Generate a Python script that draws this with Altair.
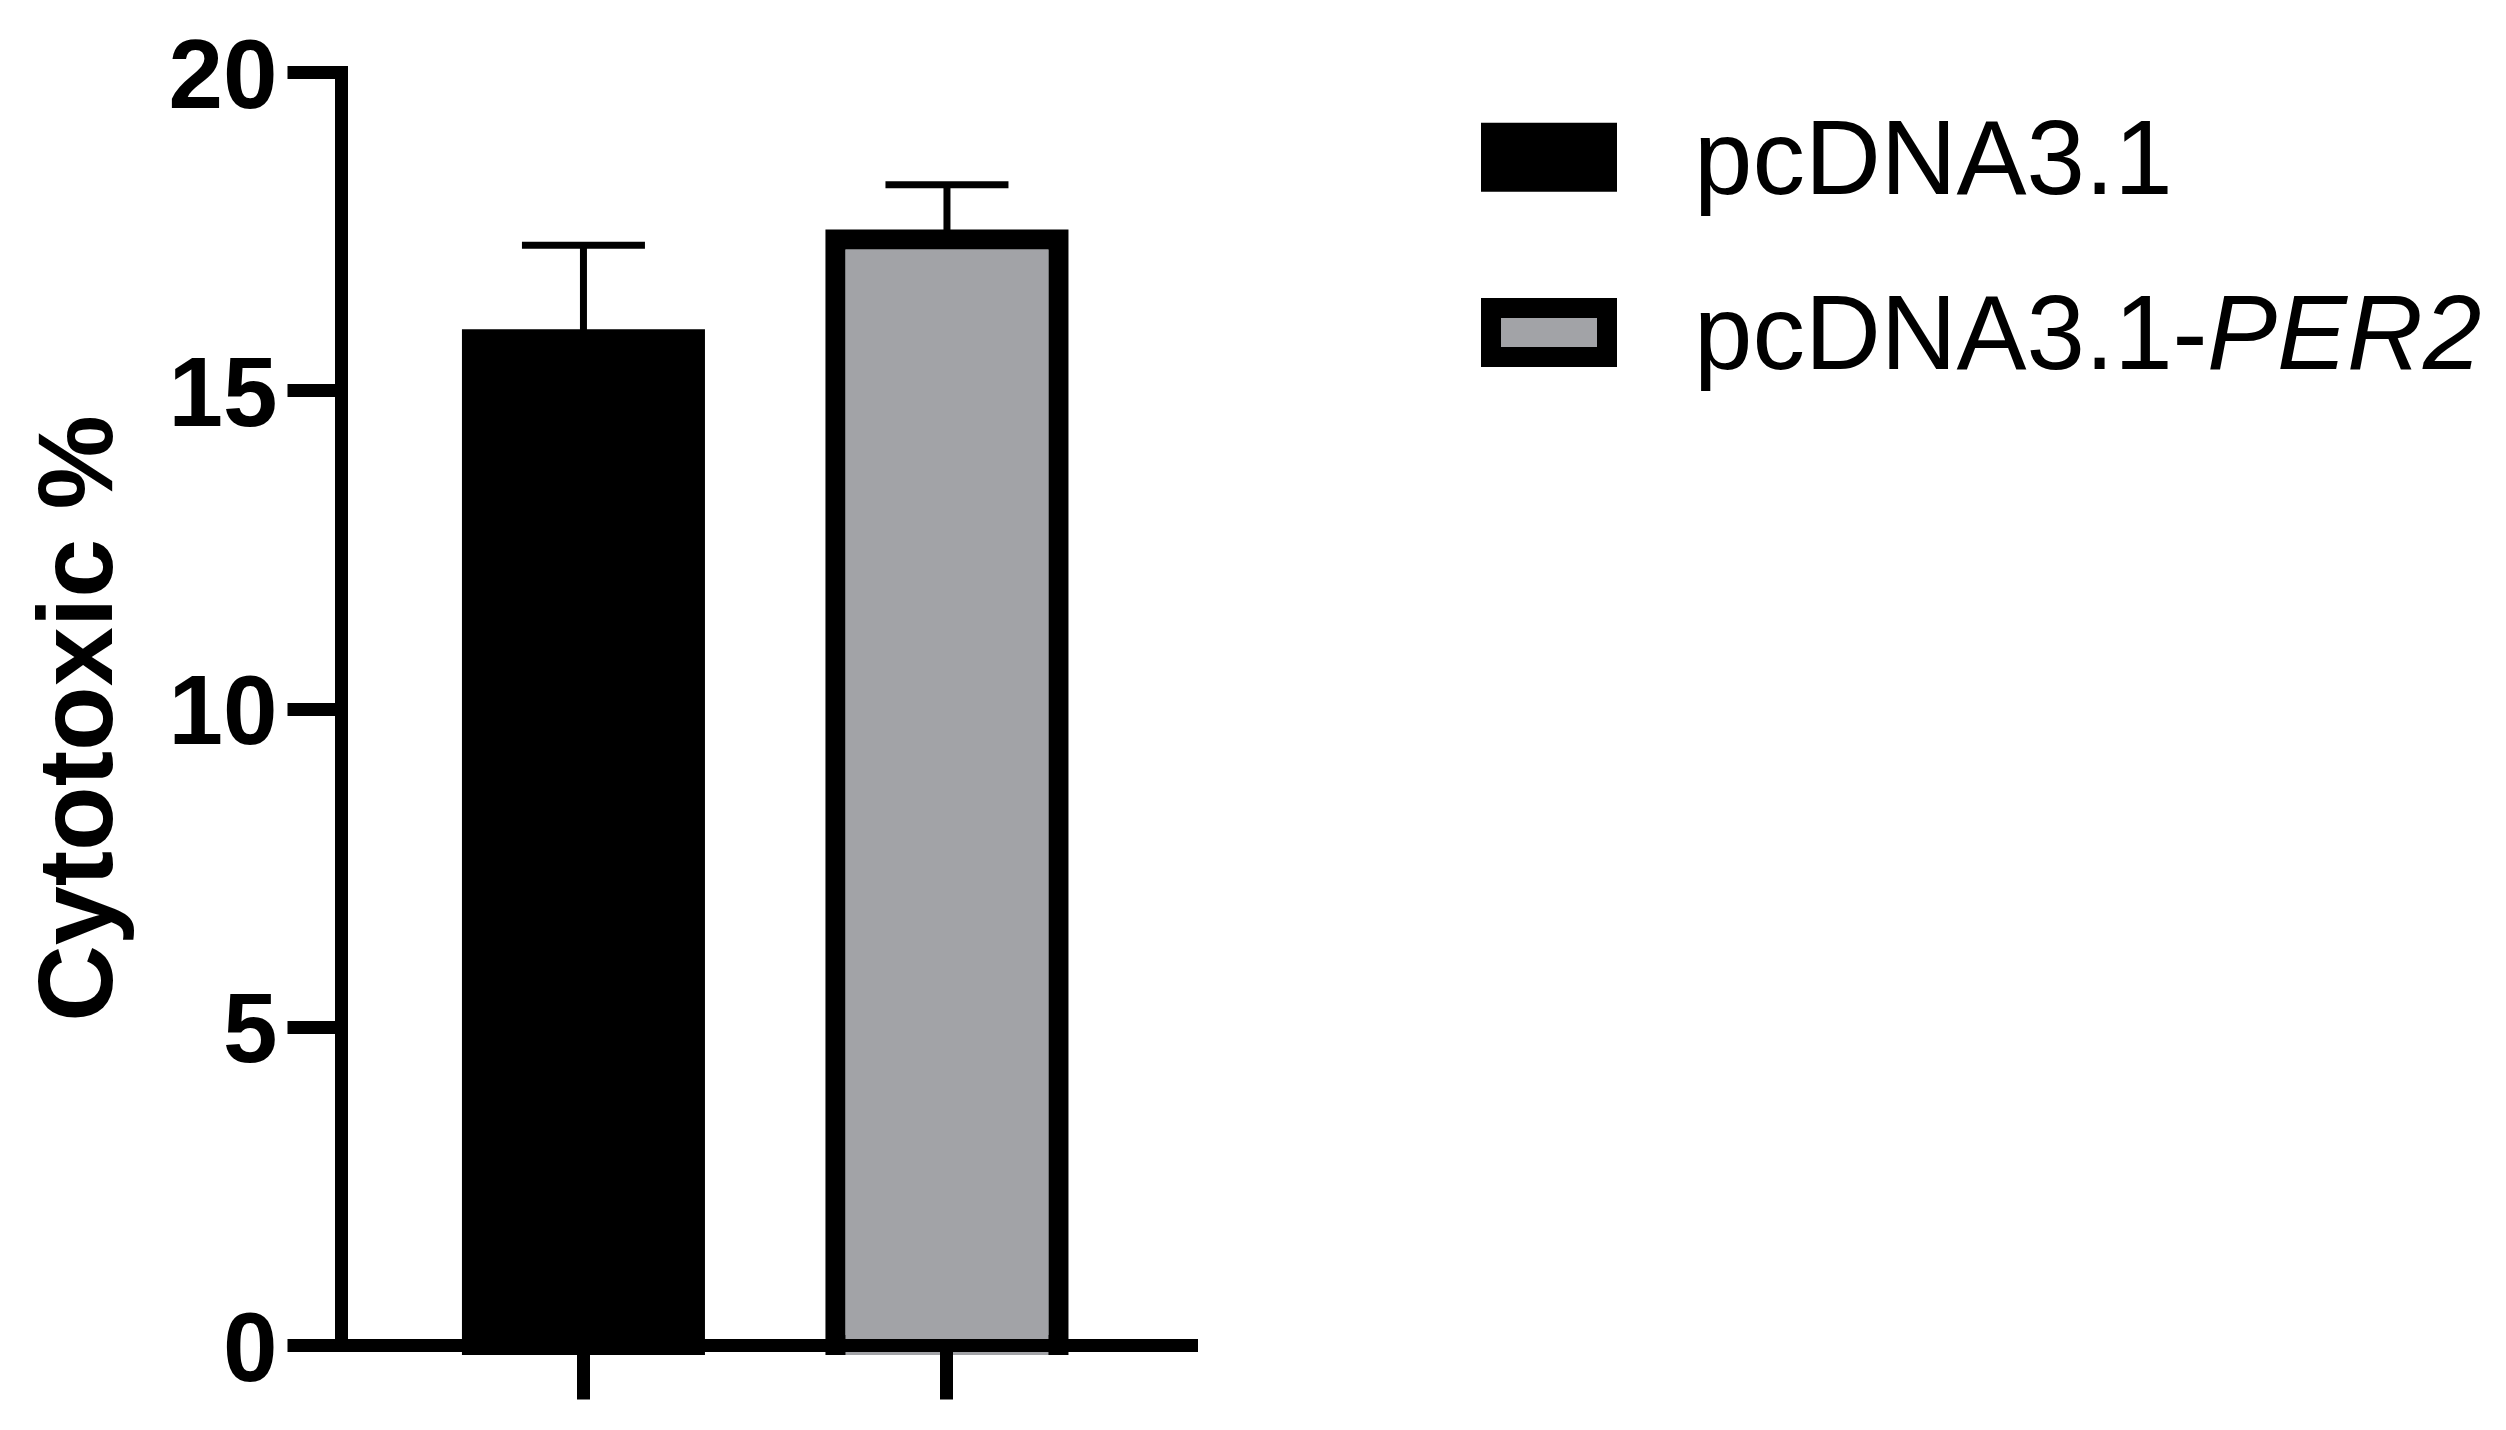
import altair as alt
import pandas as pd

# ---- data ----
groups = ["pcDNA3.1", "pcDNA3.1-PER2"]
means = [15.8, 17.37]
errors = [1.48, 0.86]
fills = ["#000000", "#a2a3a7"]
label_plain = ["pcDNA3.1", "pcDNA3.1-"]
label_italic = ["", "PER2"]
y_ticks = [0, 5, 10, 15, 20]

df = pd.DataFrame({
    "group": groups,
    "mean": means,
    "err": errors,
    "plain": label_plain,
    "ital": label_italic,
})
df["upper"] = df["mean"] + df["err"]

FONT = "Liberation Sans, Arial, Helvetica, sans-serif"
W, H = 850, 1273
BORDER = 20
AXW = 13

x_enc = alt.X(
    "group:N",
    sort=groups,
    scale=alt.Scale(domain=groups, paddingInner=0.3865, paddingOuter=0.3624, align=0.497),
    axis=alt.Axis(
        labels=False, title=None, ticks=True, tickSize=54, tickWidth=AXW,
        tickColor="black", domainWidth=AXW, domainColor="black",
        domainCap="square", grid=False, zindex=2,
    ),
)
y_scale = alt.Scale(domain=[0, 20], nice=False, zero=True)
y_axis = alt.Axis(
    values=y_ticks, format="d", tickSize=54, tickWidth=AXW, tickColor="black",
    domainWidth=AXW, domainColor="black", domainCap="square", grid=False, zindex=2,
    labelFont=FONT, labelFontWeight="bold", labelFontSize=98, labelColor="black",
    labelPadding=10, labelOffset=6, labelLimit=500,
    title="Cytotoxic %", titleFont=FONT, titleFontWeight="bold", titleFontSize=106,
    titleColor="black", titleAngle=270, titleAlign="center", titleBaseline="alphabetic",
    titleX=-230, titleY=646, titleLimit=2000,
)
color = alt.Color("group:N", scale=alt.Scale(domain=groups, range=fills), legend=None)

base = alt.Chart(df)
# outlined bars (bottom edge tucked into the x-axis line)
bars = base.mark_bar(stroke="black", strokeWidth=BORDER, y2Offset=-3.5).encode(
    x=x_enc, y=alt.Y("mean:Q", scale=y_scale, axis=y_axis), color=color
)
# fill overlay so that no border shows along the axis, as in the original
bar_fill = base.mark_bar(width=223 - BORDER, strokeWidth=0, yOffset=BORDER / 2, y2Offset=-6.5).encode(
    x=x_enc, y=alt.Y("mean:Q", scale=y_scale, axis=y_axis), color=color
)
stems = base.mark_rule(strokeWidth=7, color="black").encode(
    x=x_enc, y=alt.Y("mean:Q", scale=y_scale, axis=y_axis), y2="upper:Q"
)
caps = base.mark_tick(thickness=7, size=123, color="black", orient="horizontal", opacity=1).encode(
    x=x_enc, y=alt.Y("upper:Q", scale=y_scale, axis=y_axis)
)
main = alt.layer(stems, caps, bars, bar_fill)

legend_y = alt.Y("group:N", scale=alt.Scale(type="point", domain=groups, range=[85.2, 260.5], padding=0), axis=None)
swatch = base.mark_point(
    shape="M-1,-0.4224H1V0.4224H-1Z", size=13456, filled=True, opacity=1,
    stroke="black", strokeWidth=BORDER, strokeOpacity=1,
).encode(x=alt.value(1208), y=legend_y, color=color)
text_plain = base.mark_text(
    align="left", baseline="alphabetic", font=FONT, fontSize=105, dy=36.5, color="black"
).encode(x=alt.value(1353), y=legend_y, text="plain:N")
text_ital = base.mark_text(
    align="left", baseline="alphabetic", font=FONT, fontSize=105, fontStyle="italic",
    dy=36.5, dx=513, color="black"
).encode(x=alt.value(1353), y=legend_y, text="ital:N")
legend = alt.layer(swatch, text_plain, text_ital)

chart = (
    alt.layer(main, legend)
    .resolve_scale(y="independent")
    .properties(width=W, height=H, padding={"left": 18, "top": 21, "right": 10, "bottom": 10}, background="white")
    .configure_view(stroke=None)
    .configure_axis(domainWidth=AXW, tickWidth=AXW, domainColor="black", tickColor="black")
)

chart.save("out.html", embed_options={"renderer": "svg", "actions": False})
